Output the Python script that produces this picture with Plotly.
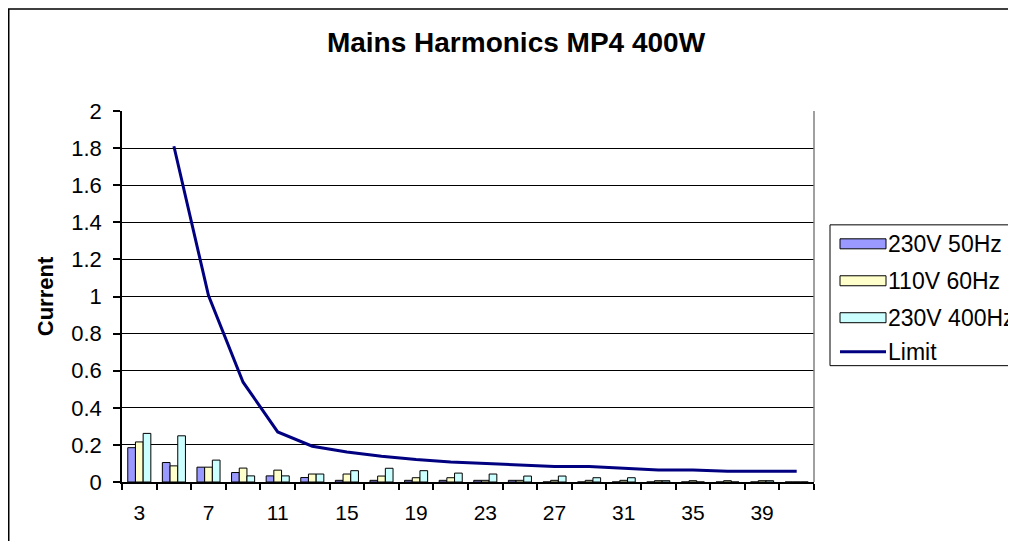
import plotly.graph_objects as go

harmonics = [3, 5, 7, 9, 11, 13, 15, 17, 19, 21, 23, 25, 27, 29, 31, 33, 35, 37, 39, 41]
tick_labels = [3, 7, 11, 15, 19, 23, 27, 31, 35, 39]
series_names = ["230V 50Hz", "110V 60Hz", "230V 400Hz", "Limit"]
v230_50 = [0.185, 0.105, 0.080, 0.051, 0.033, 0.024, 0.009, 0.009, 0.009, 0.009,
           0.009, 0.009, 0, 0, 0, 0, 0, 0, 0, 0]
v110_60 = [0.216, 0.087, 0.080, 0.075, 0.064, 0.043, 0.043, 0.032, 0.023, 0.023,
           0.009, 0.009, 0.009, 0.009, 0.009, 0.007, 0.007, 0.007, 0.007, 0]
v230_400 = [0.262, 0.249, 0.118, 0.033, 0.033, 0.043, 0.061, 0.074, 0.061, 0.048,
            0.043, 0.032, 0.032, 0.023, 0.023, 0.007, 0, 0, 0.007, 0]
limit = [None, 1.81, 1.005, 0.538, 0.27, 0.193, 0.162, 0.139, 0.121, 0.108,
         0.100, 0.092, 0.083, 0.083, 0.076, 0.065, 0.065, 0.058, 0.058, 0.058]

bar_colors = ["#9999FF", "#FFFFCC", "#CCFFFF"]
line_color = "#000080"
FONT = "Liberation Sans, Arial, sans-serif"

OFF = 8  # page body margin: figure is drawn 8px right/down of the window origin
W, H = 1016 - OFF, 541 - OFF
# target screen positions of the plot area
SX0, SX1, SY0, SY1 = 122, 814, 111, 482.5
ML = SX0 - OFF
MT = SY0 - OFF
MR = W - (SX1 - OFF)
MB = H - (SY1 - OFF)
PW, PH = W - ML - MR, H - MT - MB


def px(xs):
    return (xs - SX0) / PW


def py(ys):
    return (SY1 - ys) / PH


fig = go.Figure()
for name, vals, col in zip(series_names[:3], [v230_50, v110_60, v230_400], bar_colors):
    fig.add_trace(go.Bar(x=harmonics, y=vals, name=name, marker_color=col,
                         marker_line_color="black", marker_line_width=1,
                         showlegend=False))
fig.add_trace(go.Scatter(x=harmonics, y=limit, name=series_names[3], mode="lines",
                         line=dict(color=line_color, width=3), showlegend=False))

shapes = []
# outer chart border
shapes.append(dict(type="rect", xref="paper", yref="paper",
                   x0=px(8.75), x1=px(1060), y0=py(600), y1=py(8.75),
                   line=dict(color="black", width=1.5)))
# plot area right edge
shapes.append(dict(type="line", xref="paper", yref="paper", x0=1, x1=1, y0=0, y1=1,
                   line=dict(color="#808080", width=1.5)))
# legend box
shapes.append(dict(type="rect", xref="paper", yref="paper",
                   x0=px(830), x1=px(1060), y0=py(366), y1=py(225),
                   line=dict(color="black", width=1), fillcolor="white"))
annotations = []
centers = [244, 281, 318, 352]
for i, name in enumerate(series_names):
    c = centers[i]
    if i < 3:
        shapes.append(dict(type="rect", xref="paper", yref="paper",
                           x0=px(840), x1=px(886), y0=py(c + 5), y1=py(c - 5),
                           line=dict(color="black", width=1), fillcolor=bar_colors[i]))
    else:
        shapes.append(dict(type="line", xref="paper", yref="paper",
                           x0=px(840), x1=px(886), y0=py(c), y1=py(c),
                           line=dict(color=line_color, width=3)))
    annotations.append(dict(xref="paper", yref="paper", x=px(886), y=py(c),
                            xanchor="left", yanchor="middle", showarrow=False,
                            text=name, font=dict(family=FONT, size=23, color="black")))

fig.update_layout(
    width=W, height=H,
    margin=dict(l=ML, r=MR, t=MT, b=MB, autoexpand=False),
    paper_bgcolor="white", plot_bgcolor="white",
    barmode="group", bargap=0.333, bargroupgap=0,
    font=dict(family=FONT, size=21, color="black"),
    title=dict(text="<b>Mains Harmonics MP4 400W</b>", xref="container",
               x=(516 - OFF) / W, xanchor="center", yref="container",
               y=1 - (42 - OFF) / H, yanchor="middle",
               font=dict(family=FONT, size=28, color="black")),
    shapes=shapes, annotations=annotations,
    xaxis=dict(range=[2, 42], tickmode="array", tickvals=tick_labels,
               ticktext=[str(t) for t in tick_labels],
               ticks="outside", ticklen=6, tickcolor="rgba(0,0,0,0)",
               ticklabelstandoff=5,
               showgrid=False, zeroline=False, showline=True,
               linecolor="black", linewidth=1.5,
               minor=dict(tickmode="linear", tick0=2, dtick=2, ticks="outside",
                          ticklen=6, tickcolor="black", tickwidth=1.5, showgrid=False),
               tickfont=dict(size=21)),
    yaxis=dict(range=[0, 2], dtick=0.2, tick0=0, ticks="outside", ticklen=7,
               tickcolor="black", tickwidth=1.5, ticklabelstandoff=7,
               showgrid=True, gridcolor="black", gridwidth=1,
               zeroline=False, showline=True, linecolor="black", linewidth=1.5,
               tickfont=dict(size=22),
               title=dict(text="<b>Current</b>", standoff=12,
                          font=dict(family=FONT, size=22))),
)

fig.write_html("out.html")
